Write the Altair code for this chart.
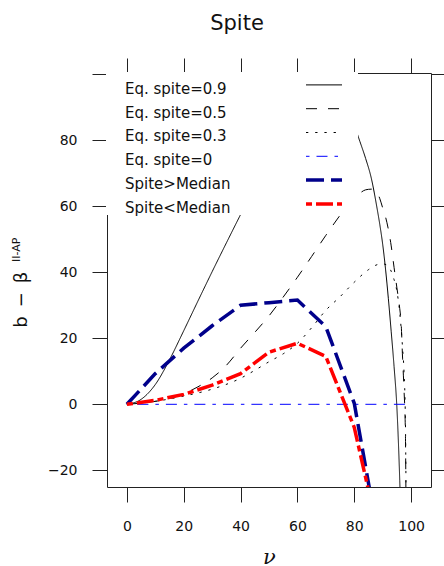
import altair as alt
import pandas as pd

# ---- data ----
series_labels = ["Eq. spite=0.9", "Eq. spite=0.5", "Eq. spite=0.3", "Eq. spite=0",
                 "Spite>Median", "Spite<Median"]
series_colors = ["#000000", "#000000", "#000000", "#0000FF", "#00008B", "#FF0000"]
series_dash = [[1, 0], [11, 11], [2.3, 6.9], [3.5, 7, 11, 7], [18, 7], [6, 4, 17, 4]]

nu_eq09 = [0, 5, 10, 15, 20, 25, 30, 35, 40, 45, 50, 55, 60, 65, 70, 75, 80,
           82, 84, 86, 88, 89, 90, 91, 92, 93, 94, 95, 96, 97]
b_eq09 = [0, 1.5, 6, 13.5, 22.3, 31.3, 40.2, 48.9, 57.5, 66, 74, 81, 87,
          91, 92, 90, 84.5, 79.6, 74.5, 68.5, 59.5, 54.4, 48.5, 41, 32, 22, 11.5, -1, -23, -55]

nu_eq05 = [0, 10, 15, 20, 25, 30, 35, 40, 45, 50, 55, 60, 65, 70, 75, 78, 80, 82, 84, 86,
           88, 89, 90, 91, 92, 93, 94, 95, 96, 96.5, 97, 97.5, 98, 98.2, 98.4]
b_eq05 = [0, 0.9, 1.7, 3.2, 5.3, 8, 11.8, 17, 21.8, 26.8, 32.5, 38.5, 44.8, 51.2, 57.3,
          60.8, 62.6, 64, 65, 65.2, 64.2, 62.3, 59.5, 56.8, 53, 48, 41.5, 35.3, 29, 24.5,
          14, 4.5, -9, -30, -60]

nu_eq03 = [0, 10, 20, 30, 40, 45, 50, 55, 60, 65, 70, 75, 80, 85, 88, 90, 92, 93, 94, 95,
           96, 96.5, 97, 97.5, 98, 98.2, 98.4]
b_eq03 = [0, 0.9, 2.5, 4.6, 7.9, 10.3, 12.9, 15.3, 18.5, 23.2, 28.5, 32.6, 37, 40.8, 42.3,
          42.6, 41.8, 40.3, 37.8, 34.3, 27.8, 23, 17, 10, -5, -25, -55]

nu_eq0 = [0, 100]
b_eq0 = [0, 0]

nu_obs = [0, 10, 20, 30, 40, 50, 60, 70, 80, 90]
b_above = [0, 9.3, 17, 23.8, 30, 30.8, 31.6, 23.5, 0.3, -48]
b_below = [0, 1.2, 3, 5.8, 9.3, 15.8, 18.5, 14.5, -7, -45]

x_ticks = [0, 20, 40, 60, 80, 100]
y_ticks = [-20, 0, 20, 40, 60, 80, 100]


def long_table(parts):
    rows = []
    for lab, xs, ys in parts:
        for x, y in zip(xs, ys):
            rows.append({"series": lab, "nu": x, "b": y})
    return pd.DataFrame(rows)


df_eq = long_table([
    (series_labels[0], nu_eq09, b_eq09),
    (series_labels[1], nu_eq05, b_eq05),
    (series_labels[2], nu_eq03, b_eq03),
    (series_labels[3], nu_eq0, b_eq0),
])
df_obs = long_table([
    (series_labels[4], nu_obs, b_above),
    (series_labels[5], nu_obs, b_below),
])
df_leg = pd.DataFrame({"series": series_labels, "row": list(range(len(series_labels)))})

FONT = "DejaVu Sans"
INK = "#222222"

xscale = alt.Scale(domain=[-7, 107], nice=False, zero=False)
yscale = alt.Scale(domain=[-25.06, 100.4], nice=False, zero=False)
color = alt.Color("series:N", scale=alt.Scale(domain=series_labels, range=series_colors), legend=None)
dash = alt.StrokeDash("series:N", scale=alt.Scale(domain=series_labels, range=series_dash), legend=None)

common_axis = dict(grid=False, tickSize=15, tickColor=INK, domainColor=INK, tickWidth=1,
                   domainWidth=1)

x_bottom = alt.Axis(values=x_ticks, orient="bottom", labelFont=FONT, labelFontSize=14,
                    labelColor="#111", labelPadding=17, labelAngle=0,
                    title="ν", titleFont="DejaVu Serif", titleFontStyle="italic",
                    titleFontSize=21, titleFontWeight="normal", titleColor="#111",
                    titlePadding=13, **common_axis)
y_left = alt.Axis(values=y_ticks, orient="left", labelFont=FONT, labelFontSize=14,
                  labelColor="#111", labelPadding=15, title=None,
                  labelExpr="datum.value == 100 ? '' : datum.label", **common_axis)
x_top = alt.Axis(values=x_ticks, orient="top", labels=False, title=None, **common_axis)
y_right = alt.Axis(values=y_ticks, orient="right", labels=False, title=None, **common_axis)

eq_lines = alt.Chart(df_eq).mark_line(clip=True, strokeWidth=1, interpolate="monotone").encode(
    x=alt.X("nu:Q", scale=xscale, axis=x_bottom),
    y=alt.Y("b:Q", scale=yscale, axis=y_left),
    color=color, strokeDash=dash, detail="series:N",
)
obs_lines = alt.Chart(df_obs).mark_line(clip=True, strokeWidth=3.5).encode(
    x=alt.X("nu:Q", scale=xscale, axis=None),
    y=alt.Y("b:Q", scale=yscale, axis=None),
    color=color, strokeDash=dash, detail="series:N",
)
frame = alt.Chart(df_eq).mark_point(opacity=0).encode(
    x=alt.X("nu:Q", scale=xscale, axis=x_top),
    y=alt.Y("b:Q", scale=yscale, axis=y_right),
)

legend_bg = alt.Chart(pd.DataFrame({"k": [0]})).mark_rect(color="white").encode(
    x=alt.value(-1), x2=alt.value(251), y=alt.value(-1), y2=alt.value(142)
)
legend_text = alt.Chart(df_leg).transform_calculate(
    ty="20.7 + 23.8 * datum.row"
).mark_text(align="left", baseline="alphabetic", font=FONT, fontSize=15, color="#111").encode(
    x=alt.value(18), y=alt.Y("ty:Q", scale=None, axis=None), text="series:N"
)
legend_thin = alt.Chart(df_leg).transform_filter("datum.row < 4").transform_calculate(
    ly="11.9 + 23.8 * datum.row"
).mark_rule(strokeWidth=1).encode(
    x=alt.value(199), x2=alt.value(235), y=alt.Y("ly:Q", scale=None, axis=None),
    color=color, strokeDash=dash,
)
legend_thick = alt.Chart(df_leg).transform_filter("datum.row >= 4").transform_calculate(
    ly="11.9 + 23.8 * datum.row"
).mark_rule(strokeWidth=3.5).encode(
    x=alt.value(199), x2=alt.value(235), y=alt.Y("ly:Q", scale=None, axis=None),
    color=color, strokeDash=dash,
)

ytitle_main = alt.Chart(pd.DataFrame({"t": ["b\u2002−\u2002β"]})).mark_text(
    angle=270, align="left", baseline="alphabetic", font=FONT, fontSize=18, color="#111"
).encode(x=alt.value(-80), y=alt.value(254.7), text="t:N")
ytitle_sup = alt.Chart(pd.DataFrame({"t": ["II-AP"]})).mark_text(
    angle=270, align="left", baseline="alphabetic", font=FONT, fontSize=11, color="#111"
).encode(x=alt.value(-87), y=alt.value(189), text="t:N")

chart = alt.layer(
    eq_lines, obs_lines, frame, legend_bg, legend_text, legend_thin, legend_thick,
    ytitle_main, ytitle_sup
).resolve_axis(x="independent", y="independent").properties(
    width=324, height=414,
    title=alt.TitleParams("Spite", font=FONT, fontSize=21, fontWeight="normal", color="#111",
                          anchor="middle", frame="group", dx=-32, offset=7,
                          baseline="alphabetic"),
    autosize=alt.AutoSizeParams(type="none"),
    padding={"left": 107, "top": 73, "right": 13, "bottom": 79},
).configure_view(stroke=None)

chart.save("out.html", embed_options={"renderer": "svg", "actions": False})
